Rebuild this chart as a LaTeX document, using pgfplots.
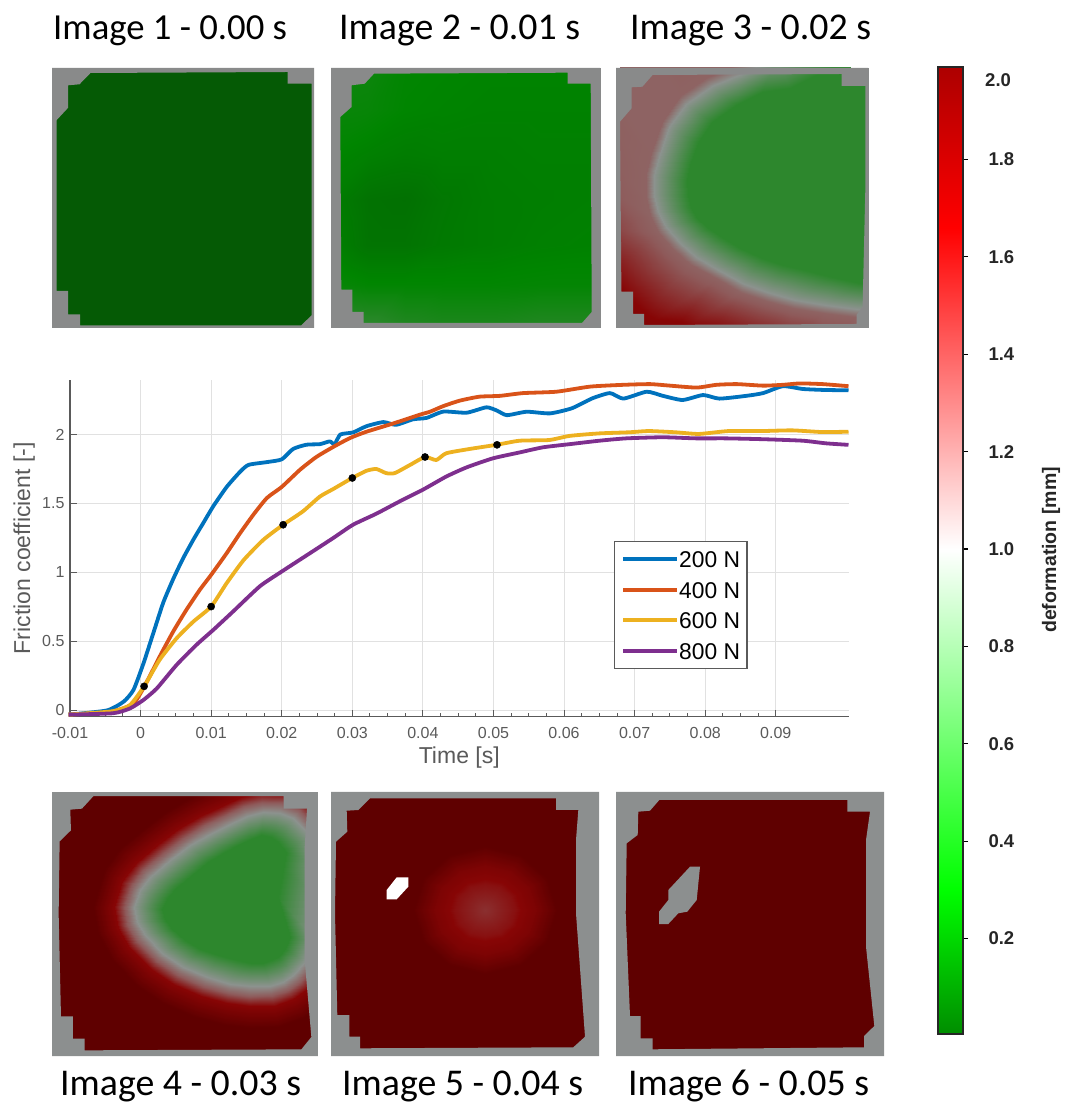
\documentclass[border=0pt]{standalone}
\usepackage{fontspec}
\setmainfont{Liberation Sans}
\newfontfamily\titlefont{Carlito}
\usepackage{pgfplots}
\pgfplotsset{compat=1.18}
\definecolor{maskgray}{RGB}{137,138,138}
\definecolor{lgray}{RGB}{140,143,143}
\definecolor{d1}{RGB}{5,90,5}
\definecolor{g5}{RGB}{45,135,45}
\definecolor{dred}{RGB}{95,0,0}
\definecolor{l1}{RGB}{0,114,189}
\definecolor{l2}{RGB}{217,83,25}
\definecolor{l3}{RGB}{237,177,32}
\definecolor{l4}{RGB}{126,47,142}
\definecolor{axgray}{RGB}{90,90,90}
\definecolor{gridc}{RGB}{225,225,225}
\pgfplotsset{
  colormap={panelmap}{rgb255(0cm)=(5,90,5) rgb255(2.5cm)=(0,133,0) rgb255(5cm)=(45,135,45) rgb255(10cm)=(140,146,142) rgb255(13cm)=(142,90,90) rgb255(16cm)=(135,5,5) rgb255(20cm)=(95,0,0)},
  colormap={barmap}{rgb255(0cm)=(0,140,0) rgb255(3cm)=(0,255,0) rgb255(10cm)=(255,255,255) rgb255(16.6cm)=(255,0,0) rgb255(20cm)=(170,0,0)},
  heat/.style={hide axis, scale only axis, anchor=south west, y dir=reverse, enlargelimits=false, axis on top=false},
  field/.style={forget plot, surf, shader=interp, point meta=explicit, colormap name=panelmap, point meta min=0, point meta max=2},
  flat/.style={forget plot, draw=none, fill=#1},
  mask/.style={forget plot, draw=none, fill=#1, even odd rule},
  curve/.style={#1, line width=3.8pt, line join=round, smooth, tension=0.35},
}
\begin{document}
\begin{tikzpicture}[x=1pt,y=1pt]
\path[use as bounding box] (0,0) rectangle (1072,1107);

% ---------- titles
\tikzset{ttl/.style={anchor=base west, inner sep=0pt, font=\titlefont\fontsize{37.8}{38}\selectfont}}
\node[ttl, font=\titlefont\fontsize{36.7}{38}\selectfont] at (53,1107-40) {Image 1 - 0.00 s};
\node[ttl] at (339,1107-40) {Image 2 - 0.01 s};
\node[ttl] at (630,1107-40) {Image 3 - 0.02 s};
\node[ttl] at (60,1107-1096) {Image 4 - 0.03 s};
\node[ttl] at (342,1107-1096) {Image 5 - 0.04 s};
\node[ttl] at (628,1107-1096) {Image 6 - 0.05 s};

% ---------- panel 1
\begin{axis}[heat, at={(52pt,779pt)}, width=262pt, height=260pt, xmin=52, xmax=314, ymin=68, ymax=328]
\addplot[flat=d1] coordinates {(52,68) (314,68) (314,328) (52,328)};
\addplot[mask=maskgray] coordinates {(52,68) (314,68) (314,328) (52,328) (52,68)
 (90.5,73) (287.5,72) (287.5,83.7) (311.6,83.7) (311.6,315.3) (301.3,325.3) (80.2,325.3) (80.2,314.3) (68.2,314.3) (68.2,291) (56.5,291) (56.5,120.3) (68.2,107.7) (68.2,85.3) (79.5,84.3) (90.5,73) (52,68)};
\end{axis}

% ---------- panel 2
\begin{axis}[heat, at={(331pt,779pt)}, width=269pt, height=260pt, xmin=331, xmax=600, ymin=68, ymax=328]
\addplot[field, mesh/cols=7] coordinates {
 (331,68) [.32] (368,68) [.32] (405,68) [.26] (442,68) [.25] (490,68) [.24] (540,68) [.24] (600,68) [.24]
 (331,110) [.30] (368,110) [.29] (405,110) [.25] (442,110) [.24] (490,110) [.23] (540,110) [.23] (600,110) [.23]
 (331,155) [.25] (368,155) [.22] (405,155) [.20] (442,155) [.21] (490,155) [.21] (540,155) [.22] (600,155) [.22]
 (331,200) [.20] (368,200) [.14] (405,200) [.13] (442,200) [.17] (490,200) [.20] (540,200) [.21] (600,200) [.22]
 (331,245) [.22] (368,245) [.15] (405,245) [.15] (442,245) [.18] (490,245) [.20] (540,245) [.22] (600,245) [.23]
 (331,285) [.30] (368,285) [.26] (405,285) [.26] (442,285) [.26] (490,285) [.26] (540,285) [.27] (600,285) [.27]
 (331,328) [.55] (368,328) [.52] (405,328) [.45] (442,328) [.42] (490,328) [.42] (540,328) [.45] (600,328) [.45]
};
\addplot[mask=maskgray] coordinates {(331,68) (600,68) (600,328) (331,328) (331,68)
 (374,73.7) (567.7,72.7) (567.7,83.7) (590.7,83.7) (591.7,312) (582,323) (363.7,323) (363.7,312) (352.3,312) (352.3,289.7) (341.3,289.7) (340.3,117) (351.6,107) (351.6,85.3) (364.7,83.7) (374,73.7) (331,68)};
\end{axis}
\draw[maskgray, line width=2.4pt] (332,780) rectangle (600.2,1038);

% ---------- panel 3
\begin{axis}[heat, at={(616pt,779pt)}, width=252pt, height=260pt, xmin=616, xmax=868, ymin=68, ymax=328]
\addplot[flat=g5] coordinates {(616,68) (868,68) (868,328) (616,328)};
\addplot[field, mesh/cols=20] coordinates {
 (850,88) [.5] (790,88) [.5] (762,92) [.5] (736,105) [.5] (712,122) [.5] (698,143) [.5] (690,165) [.5] (687,180) [.5] (688,195) [.5] (691,208) [.5] (697,218) [.5] (708,228) [.5] (720,236) [.5] (740,248) [.5] (762,258) [.5] (783,265) [.5] (805,270) [.5] (832,277) [.5] (860,283) [.5] (880,285) [.5]
 (850,58) [.5] (775,58) [1] (741,74) [1] (712,86) [1] (686,104) [1] (669,127) [1] (659,157) [1] (654,175) [1] (654,195) [1] (658,212) [1] (666,227) [1] (680,243) [1] (696,257) [1] (720,271) [1] (744,284) [1] (770,293) [1] (795,300) [1] (825,305) [1] (856,309) [1] (880,311) [1]
 (850,48) [.5] (770,48) [1.25] (736,65) [1.25] (706,78) [1.25] (680,96) [1.25] (662,122) [1.25] (651,153) [1.25] (646,173) [1.25] (646,197) [1.25] (650,215) [1.25] (658,232) [1.25] (673,249) [1.25] (690,264) [1.25] (716,278) [1.25] (740,292) [1.25] (767,301) [1.25] (793,308) [1.25] (824,313) [1.25] (856,317) [1.25] (880,319) [1.25]
 (850,40) [.5] (765,40) [1.3] (720,40) [1.3] (680,40) [1.28] (640,40) [1.25] (610,80) [1.25] (610,120) [1.27] (610,160) [1.28] (610,190) [1.3] (610,230) [1.4] (610,270) [1.58] (610,310) [1.72] (625,340) [1.78] (665,340) [1.75] (705,340) [1.7] (745,340) [1.6] (785,340) [1.5] (820,340) [1.4] (850,340) [1.3] (880,340) [1.3]
};
\addplot[mask=maskgray] coordinates {(616,68) (868,68) (868,328) (616,328) (616,68)
 (652.6,75) (841.6,74) (841.6,86) (865.3,86) (865.3,190) (862.6,306.7) (856.5,315) (856.5,324) (644,325) (644,314) (633,314) (633,291.7) (621.4,291.7) (620,121.7) (631.6,108.3) (631.6,87.3) (642.4,86.7) (652.6,75) (616,68)};
\end{axis}
\draw[maskgray, line width=2.4pt] (617,780) rectangle (868.2,1038);

% ---------- panel 4 (axis units: 1/3 pixel)
\begin{axis}[heat, at={(52pt,51pt)}, width=266pt, height=264pt, xmin=65, xmax=865, ymin=35, ymax=827]
\addplot[flat=dred] coordinates {(65,35) (865,35) (865,827) (65,827)};
\addplot[forget plot, fill=g5, draw=g5, line width=3pt] coordinates {(745,350) (760,270) (770,215) (745,185) (725,170) (695,165) (665,175) (630,192) (585,215) (535,245) (485,285) (435,325) (410,355) (397,385) (405,415) (425,445) (465,480) (510,505) (565,525) (620,540) (665,547) (700,548) (725,540) (745,530) (765,505) (780,470) (745,350)};
\addplot[field, mesh/cols=27] coordinates {
 (745,350) [.5] (760,270) [.5] (770,215) [.5] (745,185) [.5] (725,170) [.5] (695,165) [.5] (665,175) [.5] (630,192) [.5] (585,215) [.5] (535,245) [.5] (485,285) [.5] (435,325) [.5] (410,355) [.5] (397,385) [.5] (405,415) [.5] (425,445) [.5] (465,480) [.5] (510,505) [.5] (565,525) [.5] (620,540) [.5] (665,547) [.5] (700,548) [.5] (725,540) [.5] (745,530) [.5] (765,505) [.5] (780,470) [.5] (745,350) [.5]
 (875,350) [1] (865,250) [1] (840,165) [1] (790,112) [1] (750,97) [1] (700,95) [1] (650,108) [1] (600,130) [1] (540,160) [1] (480,195) [1] (420,240) [1] (360,290) [1] (330,330) [1] (312,380) [1] (322,425) [1] (345,465) [1] (400,520) [1] (460,560) [1] (530,590) [1] (600,610) [1] (660,618) [1] (720,618) [1] (760,605) [1] (790,585) [1] (825,545) [1] (855,480) [1] (875,350) [1]
 (900,350) [1.25] (889,245) [1.25] (860,150) [1.25] (804,91) [1.25] (755,72) [1.25] (698,70) [1.25] (642,84) [1.25] (590,108) [1.25] (527,138) [1.25] (465,175) [1.25] (404,221) [1.25] (342,272) [1.25] (308,318) [1.25] (287,380) [1.25] (298,433) [1.25] (325,480) [1.25] (385,540) [1.25] (447,582) [1.25] (522,614) [1.25] (596,635) [1.25] (660,643) [1.25] (725,642) [1.25] (772,627) [1.25] (807,602) [1.25] (845,559) [1.25] (878,489) [1.25] (900,350) [1.25]
 (935,350) [1.6] (923,238) [1.6] (888,129) [1.6] (823,62) [1.6] (762,38) [1.6] (694,35) [1.6] (632,51) [1.6] (575,76) [1.6] (510,108) [1.6] (444,147) [1.6] (381,194) [1.6] (317,248) [1.6] (277,301) [1.6] (252,380) [1.6] (265,443) [1.6] (297,501) [1.6] (363,567) [1.6] (430,612) [1.6] (512,647) [1.6] (591,669) [1.6] (660,678) [1.6] (732,677) [1.6] (790,657) [1.6] (832,627) [1.6] (874,579) [1.6] (911,502) [1.6] (935,350) [1.6]
 (1000,350) [2] (986,225) [2] (940,90) [2] (859,8) [2] (775,-25) [2] (688,-30) [2] (612,-11) [2] (548,18) [2] (477,52) [2] (405,95) [2] (339,145) [2] (270,202) [2] (220,270) [2] (187,380) [2] (203,462) [2] (245,540) [2] (322,617) [2] (397,669) [2] (492,709) [2] (581,734) [2] (660,743) [2] (745,740) [2] (822,714) [2] (878,672) [2] (927,616) [2] (971,525) [2] (1000,350) [2]
};
\addplot[mask=lgray] coordinates {(65,35) (865,35) (865,827) (65,827) (65,35)
 (190,47) (762,47) (762,85) (832,85) (825,200) (825,540) (845,770) (815,807) (163,810) (163,775) (128,775) (128,708) (92,708) (85,400) (88,183) (122,150) (120,88) (155,85) (190,47) (65,35)};
\end{axis}
\draw[lgray, line width=1.5pt] (52.5,51.5) rectangle (317.5,314.5);

% ---------- panel 5
\begin{axis}[heat, at={(331pt,51pt)}, width=268pt, height=264pt, xmin=331, xmax=599, ymin=792, ymax=1056]
\addplot[flat=dred] coordinates {(331,792) (599,792) (599,1056) (331,1056)};
\addplot[field, mesh/cols=13] coordinates {
 (485,910) [1.45] (485,910) [1.45] (485,910) [1.45] (485,910) [1.45] (485,910) [1.45] (485,910) [1.45] (485,910) [1.45] (485,910) [1.45] (485,910) [1.45] (485,910) [1.45] (485,910) [1.45] (485,910) [1.45] (485,910) [1.45]
 (515,910) [1.56] (511,923) [1.56] (500,932.5) [1.56] (485,936) [1.56] (470,932.5) [1.56] (459,923) [1.56] (455,910) [1.56] (459,897) [1.56] (470,887.5) [1.56] (485,884) [1.56] (500,887.5) [1.56] (511,897) [1.56] (515,910) [1.56]
 (535,910) [1.7] (528,932) [1.7] (510,948) [1.7] (485,954) [1.7] (460,948) [1.7] (442,932) [1.7] (435,910) [1.7] (442,888) [1.7] (460,872) [1.7] (485,866) [1.7] (510,872) [1.7] (528,888) [1.7] (535,910) [1.7]
 (557,910) [2] (547,942) [2] (521,965) [2] (485,974) [2] (449,965) [2] (423,942) [2] (413,910) [2] (423,878) [2] (449,855) [2] (485,846) [2] (521,855) [2] (547,878) [2] (557,910) [2]
};
\addplot[mask=lgray] coordinates {(331,792) (599,792) (599,1056) (331,1056) (331,792)
 (370,798.3) (556,798.3) (556,810) (578.3,810) (576,840) (576,913.3) (585,1036.7) (573.3,1047.3) (360,1048.3) (360,1036.7) (349.3,1036.7) (349.3,1015) (337.3,1015) (335,913.3) (336,841.7) (347.3,831.7) (346.7,810.7) (358.3,810) (370,798.3) (331,792)};
\addplot[flat=white] coordinates {(396.7,877.3) (408.3,877.3) (408.3,886.7) (396.7,899.3) (386.7,899.3) (386.7,890)};
\end{axis}

% ---------- panel 6
\begin{axis}[heat, at={(616pt,51pt)}, width=268pt, height=264pt, xmin=616, xmax=884, ymin=792, ymax=1056]
\addplot[flat=dred] coordinates {(616,792) (884,792) (884,1056) (616,1056)};
\addplot[mask=lgray] coordinates {(616,792) (884,792) (884,1056) (616,1056) (616,792)
 (659.3,800) (847.3,800) (847.3,811.7) (870,811.7) (866,840) (866,946.7) (874.3,1026) (864,1036) (864,1047.3) (652.7,1049.3) (652.7,1038.3) (640.7,1038.3) (640.7,1016) (630,1016) (625.7,913.3) (626.7,843.3) (637.7,835) (638.3,811.7) (650,810.7) (659.3,800) (616,792)};
\addplot[flat=lgray] coordinates {(690,866.7) (700,866.7) (696.7,900) (687.3,911.7) (678.3,913.3) (668.3,924) (659,924) (659,911.7) (668.3,900) (668.3,890)};
\end{axis}

% ---------- main chart
\begin{axis}[
  scale only axis, anchor=south west, at={(70pt,390.3pt)}, width=778.5pt, height=336.7pt,
  xmin=-0.01, xmax=0.1003, ymin=-0.045, ymax=2.395,
  axis x line*=bottom, axis y line*=left,
  axis line style={draw=axgray, line width=1.2pt, -},
  clip=false,
  xtick={-0.01,0,0.01,0.02,0.03,0.04,0.05,0.06,0.07,0.08,0.09},
  xticklabels={-0.01,0,0.01,0.02,0.03,0.04,0.05,0.06,0.07,0.08,0.09},
  ytick={0,0.5,1,1.5,2}, yticklabels={0,0.5,1,1.5,2},
  minor x tick num=3, scaled ticks=false,
  xmajorgrids, ymajorgrids,
  grid style={gridc, line width=1.1pt},
  tick align=inside, major tick length=7pt, minor tick length=3.5pt,
  tick style={axgray, line width=1pt},
  tick label style={font=\fontsize{16}{16}\selectfont, text=axgray},
  x tick label style={yshift=-7pt},
  y tick label style={xshift=-2pt},
  xlabel={Time [s]}, ylabel={Friction coefficient [-]},
  every axis x label/.style={at={(axis description cs:0.5,-0.12)},anchor=center,font=\fontsize{23}{23}\selectfont,text=axgray},
  every axis y label/.style={at={(axis description cs:-0.059,0.5)},rotate=90,anchor=center,font=\fontsize{23}{23}\selectfont,text=axgray},
  legend image code/.code={\draw[#1] (0pt,0pt) -- (54pt,0pt);},
  legend style={at={(axis cs:0.06705,1.228)}, anchor=north west, draw=axgray, line width=1.2pt, fill=white,
    font=\fontsize{22.8}{23}\selectfont, text=black, inner xsep=7pt, inner ysep=9.5pt, row sep=14pt,
    nodes={inner sep=0pt, anchor=west, text height=16.5pt, text depth=0pt}, /tikz/column 2/.style={column sep=3pt}},
  legend cell align=left,
]
\addplot[curve=l1] coordinates {
(-0.0102,-0.03) (-0.0048,0) (-0.0024,0.064) (-0.001,0.15) (0.0004,0.34) (0.0018,0.56) (0.0032,0.78) (0.0046,0.95) (0.006,1.10) (0.0075,1.24) (0.0089,1.36) (0.0103,1.48) (0.0122,1.62) (0.0141,1.73) (0.0153,1.78) (0.0179,1.80) (0.02,1.82) (0.0216,1.895) (0.0235,1.926) (0.0254,1.93) (0.0268,1.95) (0.0275,1.93) (0.0283,2.0) (0.0301,2.015) (0.032,2.06) (0.0344,2.09) (0.0362,2.07) (0.0386,2.11) (0.0405,2.12) (0.0429,2.166) (0.0462,2.158) (0.049,2.197) (0.0505,2.173) (0.0519,2.14) (0.0547,2.165) (0.058,2.153) (0.0611,2.19) (0.064,2.262) (0.0665,2.30) (0.0684,2.26) (0.0717,2.31) (0.074,2.28) (0.0768,2.25) (0.0797,2.286) (0.082,2.26) (0.0858,2.28) (0.0882,2.30) (0.091,2.35) (0.0938,2.33) (0.0967,2.323) (0.1003,2.32)};
\addlegendentry{200 N}
\addplot[curve=l2] coordinates {
(-0.0102,-0.03) (-0.0043,-0.01) (-0.001,0.05) (0.0009,0.21) (0.0027,0.39) (0.0046,0.57) (0.0065,0.73) (0.0084,0.875) (0.01,0.983) (0.0122,1.14) (0.0141,1.285) (0.016,1.42) (0.0179,1.54) (0.02,1.62) (0.0226,1.745) (0.0249,1.837) (0.0273,1.91) (0.0297,1.975) (0.032,2.02) (0.0358,2.08) (0.0396,2.144) (0.041,2.165) (0.0429,2.206) (0.0452,2.245) (0.048,2.274) (0.0509,2.28) (0.0542,2.30) (0.0589,2.31) (0.0637,2.347) (0.0684,2.36) (0.0722,2.365) (0.075,2.354) (0.0788,2.34) (0.0816,2.36) (0.0845,2.365) (0.0882,2.354) (0.091,2.36) (0.0934,2.37) (0.0967,2.365) (0.1003,2.35)};
\addlegendentry{400 N}
\addplot[curve=l3] coordinates {
(-0.0102,-0.03) (-0.0039,-0.005) (-0.0015,0.04) (0.0005,0.175) (0.0027,0.367) (0.0051,0.523) (0.0075,0.645) (0.01,0.753) (0.0122,0.923) (0.0146,1.09) (0.0174,1.237) (0.0202,1.346) (0.023,1.443) (0.0254,1.55) (0.0273,1.605) (0.03,1.685) (0.032,1.737) (0.0334,1.75) (0.0348,1.72) (0.036,1.72) (0.0382,1.78) (0.0403,1.837) (0.0419,1.815) (0.0433,1.864) (0.0466,1.895) (0.0504,1.925) (0.0537,1.955) (0.0579,1.96) (0.0608,1.99) (0.065,2.008) (0.0692,2.016) (0.072,2.025) (0.0758,2.016) (0.0791,2.004) (0.0833,2.025) (0.088,2.025) (0.0923,2.03) (0.0965,2.018) (0.1003,2.02)};
\addlegendentry{600 N}
\addplot[curve=l4] coordinates {
(-0.0102,-0.03) (-0.0039,-0.02) (-0.0015,0.015) (0.0004,0.076) (0.0023,0.16) (0.0051,0.33) (0.0079,0.475) (0.0103,0.584) (0.0131,0.717) (0.0169,0.9) (0.02,1.007) (0.024,1.14) (0.0273,1.25) (0.0301,1.346) (0.0334,1.426) (0.0367,1.515) (0.04,1.6) (0.0433,1.695) (0.0462,1.762) (0.0499,1.827) (0.0537,1.87) (0.057,1.907) (0.0608,1.93) (0.065,1.955) (0.0688,1.972) (0.074,1.98) (0.0787,1.972) (0.0829,1.972) (0.0881,1.966) (0.0938,1.955) (0.0971,1.936) (0.1003,1.925)};
\addlegendentry{800 N}
\addplot[only marks, mark=*, mark size=3.6pt, black, forget plot] coordinates {
(0.0005,0.175) (0.01,0.753) (0.0202,1.346) (0.03,1.685) (0.0403,1.837) (0.0505,1.925)};
\end{axis}

% ---------- colour bar
\begin{axis}[
  scale only axis, anchor=south west, at={(938pt,73pt)}, width=25pt, height=967pt,
  xmin=0, xmax=1, ymin=0.004, ymax=1.99, xtick=\empty,
  ytick={0.2,0.4,0.6,0.8,1.0,1.2,1.4,1.6,1.8},
  yticklabels={0.2,0.4,0.6,0.8,1.0,1.2,1.4,1.6,1.8},
  ytick pos=right, tick align=outside, major tick length=5pt,
  tick style={black, line width=1.2pt},
  axis line style={black!85, line width=1.4pt},
  axis on top,
  y tick label style={font=\bfseries\fontsize{18.5}{18.5}\selectfont, xshift=17pt, text=black!85},
]
\addplot[forget plot, surf, shader=interp, point meta=explicit, colormap name=barmap, point meta min=0, point meta max=2, mesh/cols=2] coordinates {
 (0,0.004) [0.004] (1,0.004) [0.004]
 (0,1.99) [1.99] (1,1.99) [1.99]};
\end{axis}
\node[anchor=west, inner sep=0pt, font=\bfseries\fontsize{18.5}{18.5}\selectfont, text=black!85] at (985,1107-80) {2.0};
\node[rotate=90, inner sep=0pt, font=\bfseries\fontsize{19.5}{19.5}\selectfont, text=black!85] at (1051,1107-550) {deformation [mm]};
\end{tikzpicture}
\end{document}
